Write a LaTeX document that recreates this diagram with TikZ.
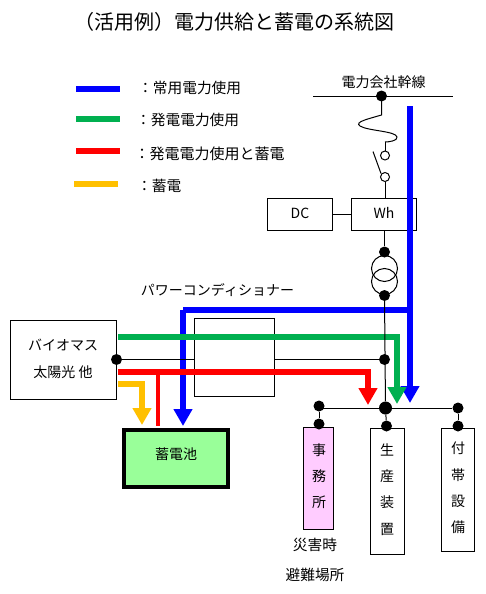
\documentclass[tikz,border=0pt]{standalone}
\usepackage{fontspec}
\setmainfont{Noto Sans CJK JP}
\usetikzlibrary{arrows.meta}
\tikzset{
 x=1pt,y=-1pt,
 thin line/.style={draw=black,line width=1pt},
 box/.style={draw=black,line width=1pt,inner sep=0pt},
 dot/.style={circle,fill=black,inner sep=0pt,minimum size=11pt},
 wire/.style={line width=6pt,line cap=butt,line join=miter},
 flow/.style={wire,-{Triangle[width=18pt,length=17pt]}},
 txt/.style={font=\fontsize{14}{16}\selectfont,inner sep=0pt},
 ltxt/.style={font=\fontsize{14.7}{16}\selectfont,inner sep=0pt,anchor=west},
 vtxt/.style={font=\fontsize{14}{26.3}\selectfont,inner sep=0pt,align=center},
}
\definecolor{gblue}{HTML}{0000FF}
\definecolor{ggreen}{HTML}{00B050}
\definecolor{gred}{HTML}{FF0000}
\definecolor{gyellow}{HTML}{FFC000}
\definecolor{gpink}{HTML}{FFCCFF}
\definecolor{gbatt}{HTML}{99FF99}
\begin{document}
\begin{tikzpicture}
\useasboundingbox (0,0) rectangle (485,594);
\node[txt,font=\fontsize{20}{22}\selectfont] (title) at (234,22) {（活用例）電力供給と蓄電の系統図};
% legend
\coordinate (l1a) at (76,89); \coordinate (l1b) at (120,89);
\coordinate (l2a) at (76,119); \coordinate (l2b) at (120,119);
\coordinate (l3a) at (76,151); \coordinate (l3b) at (120,151);
\coordinate (l4a) at (74,184); \coordinate (l4b) at (118,184);
\draw[wire,gblue] (l1a)--(l1b); \draw[wire,ggreen] (l2a)--(l2b);
\draw[wire,gred] (l3a)--(l3b); \draw[wire,gyellow] (l4a)--(l4b);
\node[ltxt] (t1) at (138,88) {：常用電力使用};
\node[ltxt] (t2) at (136,120) {：発電電力使用};
\node[ltxt,font=\fontsize{15}{16}\selectfont] (t3) at (134.5,153.5) {：発電電力使用と蓄電};
\node[ltxt] (t4) at (137,186) {：蓄電};
% grid
\node[txt] (grid) at (383.5,82) {電力会社幹線};
\coordinate (ga) at (313,96); \coordinate (gb) at (453,96);
\draw[thin line] (ga)--(gb);
\node[dot] (d0) at (381.5,96) {};
\coordinate (f1) at (381.5,115); \coordinate (f2) at (385,142);
\draw[thin line] (d0.center)--(f1) .. controls (368,119) and (354,122) .. (360,126) .. controls (368,131) and (396,131) .. (397,137) .. controls (398,141) and (388,142) .. (f2);
\node[draw=black,line width=1pt,circle,inner sep=0pt,minimum size=9pt] (c1) at (385,155.5) {};
\node[draw=black,line width=1pt,circle,inner sep=0pt,minimum size=9pt] (c2) at (385,177) {};
\draw[thin line] (f2)--(c1);
\coordinate (s1) at (373,151.5); \coordinate (s2) at (381,173.5);
\draw[thin line] (s1)--(s2);
\node[box,minimum width=65pt,minimum height=32pt] (dc) at (300,214) {};
\node[box,minimum width=65pt,minimum height=32pt] (wh) at (384,214) {};
\node[txt] (dct) at (300,213) {DC};
\node[txt] (wht) at (384,213) {Wh};
\draw[thin line] (c2)--(c2|-wh.north);
\draw[thin line] (dc)--(wh);
% power conditioner box, then flows, then black wiring on top
\node[box,minimum width=79.5pt,minimum height=78pt] (pcs) at (234.25,357.5) {};
\node[box,minimum width=106pt,minimum height=78.5pt,fill=white] (bio) at (63.5,359.75) {};
\node[txt] (bt1) at (63,345) {バイオマス};
\node[txt] (bt2) at (63,372) {太陽光 他};
\node[draw=black,line width=4pt,fill=gbatt,minimum width=104pt,minimum height=57pt,inner sep=0pt] (batt) at (176,458.5) {};
\node[txt] (battt) at (176,454) {蓄電池};
\coordinate (bl0) at (410,106); \coordinate (bl1) at (410,403);
\coordinate (bl2) at (410,310); \coordinate (bl3) at (183,310); \coordinate (bl4) at (183,426);
\draw[flow,gblue] (bl3)--(bl4);
\draw[wire,gblue] (bl3)--(bl2);
\draw[flow,gblue] (bl0)--(bl1);
\coordinate (g0) at (118,337); \coordinate (g1) at (397,337); \coordinate (g2) at (397,404);
\coordinate (r0) at (118,372); \coordinate (r1) at (368,372); \coordinate (r2) at (368,405);
\coordinate (r3) at (158,372); \coordinate (r4) at (158,426);
\coordinate (y0) at (118,384); \coordinate (y1) at (142,384); \coordinate (y2) at (142,425);
\draw[flow,ggreen] (g0)--(g1)--(g2);
\draw[wire,gred,line width=4pt] (r3)--(r4);
\draw[flow,gred] (r0)--(r1)--(r2);
\draw[flow,gyellow] (y0)--(y1)--(y2);
% transformer
\node[dot] (d1) at (384.5,252) {};
\node[dot] (d2) at (384.5,295.5) {};
\node[draw=black,line width=1pt,circle,inner sep=0pt,minimum size=26pt] (tr1) at (384.5,268.5) {};
\node[draw=black,line width=1pt,circle,inner sep=0pt,minimum size=26pt] (tr2) at (384.5,281.5) {};
\draw[thin line] (wh.south-|d1)--(d1);
\node[txt] (pc) at (217.5,290) {パワーコンディショナー};
\node[dot] (d3) at (116.5,359.5) {};
\node[dot] (d4) at (384.5,359.5) {};
\draw[thin line] (d3)--(pcs.west|-d3);
\draw[thin line] (pcs.east|-d4)--(d4);
% loads
\node[box,fill=gpink,minimum width=30pt,minimum height=102.5pt] (off) at (318.5,478.25) {};
\node[box,minimum width=34pt,minimum height=125.5pt] (prod) at (387.5,491.25) {};
\node[box,minimum width=33pt,minimum height=122.5pt] (acc) at (458,489.75) {};
% bus
\node[dot] (b1) at (319,406) {};
\node[dot,minimum size=13pt] (b2) at (385.5,408) {};
\node[dot] (b3) at (458,408) {};
\node[dot] (b4) at (319,424) {};
\node[dot] (b5) at (386.5,426) {};
\node[dot] (b6) at (458,426) {};
\draw[thin line] (d2)--(b2);
\draw[thin line] (b1|-b2)--(b3);
\draw[thin line] (b1)--(b4); \draw[thin line] (b2)--(b5); \draw[thin line] (b3)--(b6);
\node[vtxt] (offt) at (319,476) {事\\務\\所};
\node[vtxt] (prodt) at (387,489.5) {生\\産\\装\\置};
\node[vtxt] (acct) at (458,488) {付\\帯\\設\\備};
\node[txt,font=\fontsize{14.7}{16}\selectfont] (sa1) at (315,545) {災害時};
\node[txt,font=\fontsize{14.7}{16}\selectfont] (sa2) at (315,575) {避難場所};
\end{tikzpicture}
\end{document}
